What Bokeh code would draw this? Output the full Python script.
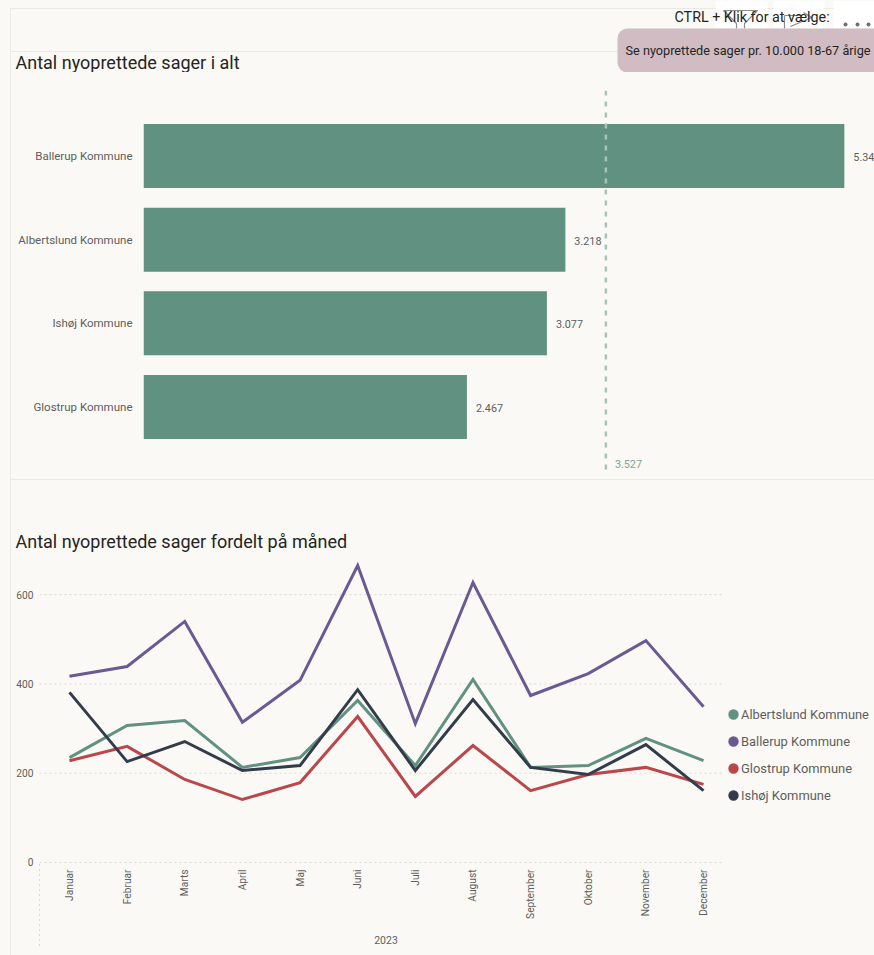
from bokeh.embed import file_html
from bokeh.resources import INLINE
from bokeh.plotting import figure
from bokeh.layouts import column
from bokeh.models import (BoxAnnotation, ColumnDataSource, FactorRange, FixedTicker, Label,
                          Legend, LegendItem, Range1d, Span)
from bokeh.core.properties import value
from math import pi

kommuner = ["Ballerup Kommune", "Albertslund Kommune", "Ishøj Kommune", "Glostrup Kommune"]
total = [5346, 3218, 3077, 2467]
gennemsnit = 3527
maaneder = ["Januar", "Februar", "Marts", "April", "Maj", "Juni", "Juli", "August",
            "September", "Oktober", "November", "December"]
albertslund = [235, 307, 318, 213, 235, 363, 217, 410, 213, 217, 278, 228]
ballerup = [417, 439, 540, 314, 408, 665, 311, 627, 374, 423, 497, 349]
glostrup = [228, 260, 186, 141, 179, 327, 148, 262, 161, 197, 213, 175]
ishoj = [381, 226, 271, 206, 217, 387, 206, 365, 213, 197, 264, 161]
y_ticks = [0, 200, 400, 600]

BG = "#faf9f5"
RULE = "#e9e9e6"
DOT = "#d9d9d5"
FONT = "Roboto"
TXT = "#605e5c"
DARK = "#252423"
GREEN = "#619180"
PURPLE = "#6a5a94"
RED = "#b9474c"
INK = "#333c4b"
nan = float("nan")


def dk(v):
    return f"{v:,}".replace(",", ".")


def base(p):
    p.background_fill_color = None
    p.border_fill_color = None
    p.outline_line_color = None
    p.frame_align = False


# ---------- header band: tooltip, icons, title of the bar chart ----------
p0 = figure(width=874, height=72, output_backend="svg", toolbar_location=None,
            x_range=Range1d(0, 874), y_range=Range1d(72, 0),
            x_axis_location=None, y_axis_location=None,
            min_border_left=0, min_border_right=0, min_border_top=0, min_border_bottom=0)
base(p0)
p0.grid.visible = False
p0.quad(left=[715, 773, 833], right=[767, 824, 874], top=[0, 0, 0], bottom=[28, 28, 28],
        fill_color="#ffffff", line_color=None)
p0.line([723, 757, 744, 744], [10, 10, 23, 28], line_color="#8a8a8a", line_width=1.2)
p0.line([723, 736, 736], [10, 23, 28], line_color="#8a8a8a", line_width=1.2)
p0.line([784, 784], [15, 28], line_color="#8a8a8a", line_width=1.2)
p0.line([784, 800], [15, 15], line_color="#8a8a8a", line_width=1.2)
p0.line([790, 811, 803], [26, 17, 12], line_color="#8a8a8a", line_width=1.2)
p0.scatter(x=[845, 857, 868], y=[24, 24, 24], size=4, fill_color="#6f6f6f", line_color=None)
p0.add_layout(BoxAnnotation(left=617, right=890, top=28, bottom=72,
                            left_units="canvas", right_units="canvas",
                            top_units="canvas", bottom_units="canvas",
                            fill_color="#d0bcc2", fill_alpha=1, line_color=None,
                            border_radius=10))
p0.add_layout(Label(x=674, x_units="canvas", y=16, y_units="canvas",
                    text="CTRL + Klik for at vælge:", text_font=FONT, text_font_size="14.3px",
                    text_color=DARK, text_baseline="middle"))
p0.add_layout(Label(x=625, x_units="canvas", y=50, y_units="canvas",
                    text="Se nyoprettede sager pr. 10.000 18-67 årige", text_font=FONT,
                    text_font_size="12.7px", text_color=DARK, text_baseline="middle"))
p0.add_layout(Label(x=15, x_units="canvas", y=62, y_units="canvas",
                    text="Antal nyoprettede sager i alt", text_font=FONT, text_font_size="18px",
                    text_color=DARK, text_baseline="middle"))

# ---------- bars ----------
p1 = figure(width=874, height=408, output_backend="svg", toolbar_location=None,
            x_range=Range1d(0, 5576),
            y_range=FactorRange(factors=kommuner[::-1], range_padding=0.283,
                                range_padding_units="absolute"),
            min_border_left=143, min_border_right=0, min_border_top=18, min_border_bottom=8)
base(p1)
p1.xaxis.visible = False
p1.grid.visible = False
p1.yaxis.axis_line_color = None
p1.yaxis.major_tick_line_color = None
p1.yaxis.minor_tick_line_color = None
p1.yaxis.major_label_standoff = 5
p1.yaxis.major_label_text_font = FONT
p1.yaxis.major_label_text_font_size = "11.5px"
p1.yaxis.major_label_text_color = TXT

src1 = ColumnDataSource(dict(k=kommuner, v=total, t=[dk(v) for v in total]))
p1.hbar(y="k", right="v", left=0, height=0.765, source=src1, fill_color=GREEN, line_color=None)
p1.text(x="v", y="k", text="t", source=src1, x_offset=9, y_offset=1, text_baseline="middle",
        text_font=value(FONT), text_font_size="10.8px", text_color=TXT)
p1.add_layout(Span(location=gennemsnit, dimension="height", line_color="#a6c4b7",
                   line_width=2.5, line_dash="5 6"))
p1.add_layout(Label(x=gennemsnit, x_units="data", y=391, y_units="canvas", x_offset=9,
                    text=dk(gennemsnit), text_font=FONT, text_font_size="10.8px",
                    text_color="#7fa596", text_baseline="middle"))

# ---------- lines ----------
x_lo, x_hi = -0.52, 11.347
p2 = figure(width=874, height=475, output_backend="svg", toolbar_location=None,
            x_range=Range1d(x_lo, 13.966), y_range=Range1d(-4.48, 687.6),
            min_border_left=39, min_border_right=0, min_border_top=75, min_border_bottom=91,
            title="Antal nyoprettede sager fordelt på måned")
base(p2)
p2.title.text_font = FONT
p2.title.text_font_style = "normal"
p2.title.text_font_size = "18px"
p2.title.text_color = DARK
p2.title.align = "left"
p2.title.offset = -24
p2.title.standoff = 7
p2.grid.visible = False
p2.segment(x0=[x_lo] * len(y_ticks), x1=[x_hi] * len(y_ticks), y0=y_ticks, y1=y_ticks,
           line_color=DOT, line_width=1, line_dash="2 3")
p2.yaxis.ticker = FixedTicker(ticks=y_ticks)
p2.xaxis.ticker = FixedTicker(ticks=list(range(len(maaneder))))
p2.xaxis.major_label_overrides = dict(enumerate(maaneder))
p2.xaxis.major_label_orientation = pi / 2
p2.xaxis.major_label_standoff = 5
p2.yaxis.major_label_standoff = 6
for ax in (p2.xaxis, p2.yaxis):
    ax.axis_line_color = None
    ax.major_tick_line_color = None
    ax.minor_tick_line_color = None
    ax.major_tick_out = 0
    ax.major_label_text_font = FONT
    ax.major_label_text_font_size = "10.2px"
    ax.major_label_text_color = TXT
p2.add_layout(Label(x=385.5, x_units="canvas", y=459, y_units="canvas", text="2023",
                    text_font=FONT, text_font_size="10.5px", text_color=TXT, text_align="center",
                    text_baseline="middle"), "below")

series = [("Albertslund Kommune", albertslund, GREEN), ("Ballerup Kommune", ballerup, PURPLE),
          ("Glostrup Kommune", glostrup, RED), ("Ishøj Kommune", ishoj, INK)]
items = []
for name, vals, col in series:
    p2.line(list(range(len(vals))), vals, line_color=col, line_width=3, line_join="miter")
    dot = p2.scatter(x=[nan], y=[nan], size=10, fill_color=col, line_color=col, line_width=4)
    items.append(LegendItem(label=name, renderers=[dot]))
leg = Legend(items=items, location=(686, 56), glyph_width=16, glyph_height=26, spacing=1,
             padding=0, margin=0, label_standoff=0, label_text_font=FONT,
             label_text_font_size="12.9px", label_text_color=TXT, background_fill_alpha=0,
             border_line_color=None)
p2.add_layout(leg)


def rule(x, y, w, h):
    return f"linear-gradient({RULE},{RULE}) {x}px {y}px/{w}px {h}px no-repeat"


css = ",".join([rule(10, 8, 864, 1), rule(10, 51, 864, 1), rule(10, 479, 864, 1),
                rule(10, 8, 1, 947),
                f"repeating-linear-gradient({DOT} 0 2px,transparent 2px 5px) 39px 864px/1px 84px no-repeat",
                BG])
page = file_html(column(p0, p1, p2, spacing=0), INLINE)
page = page.replace("<head>", "<head><style>html{background:" + css + "}</style>", 1)
open("out.html", "w").write(page)
